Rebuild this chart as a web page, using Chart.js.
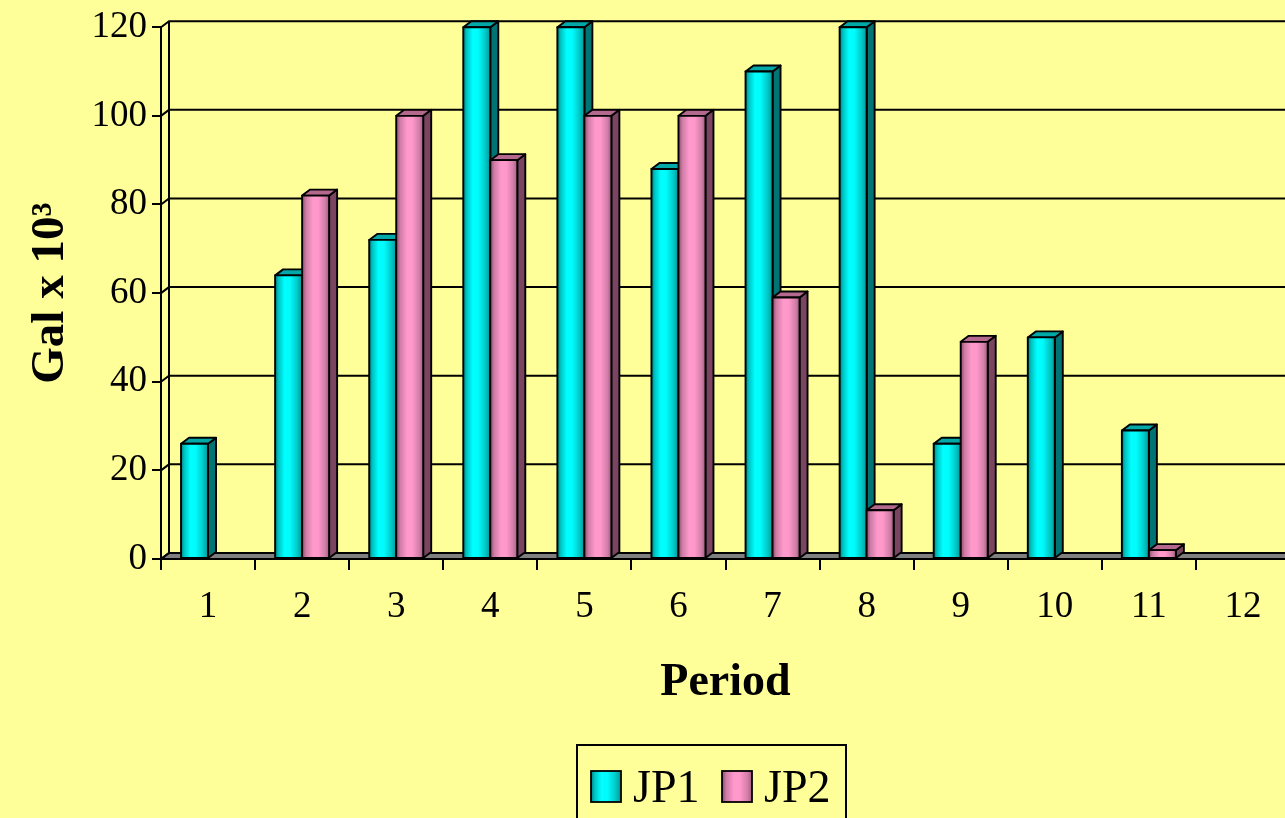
<!DOCTYPE html>
<html>
<head>
<meta charset="utf-8">
<script src="https://cdn.jsdelivr.net/npm/chart.js@4.4.1/dist/chart.umd.min.js"></script>
<style>
  html, body { margin: 0; padding: 0; background: #ffff99; overflow: hidden; }
  #wrap { width: 1285px; height: 818px; overflow: hidden; position: relative; background: #ffff99; }
  canvas { display: block; }
</style>
</head>
<body>
<div id="wrap"><canvas id="chart" width="1291" height="818"></canvas></div>
<script>
// Period labels and pumped volumes (thousands of gallons)
const periods = ['1', '2', '3', '4', '5', '6', '7', '8', '9', '10', '11', '12'];
const jp1 = [26, 64, 72, 120, 120, 88, 110, 120, 26, 50, 29, 0];
const jp2 = [0, 82, 100, 90, 100, 100, 59, 11, 49, 0, 2, 0];
const seriesNames = ['JP1', 'JP2'];

const SERIF = '"Liberation Serif", "Times New Roman", serif';

// Wall / floor depth and bar depth (pseudo-3D offsets)
const WALL_DX = 8, WALL_DY = 6;
const BAR_DX = 8, BAR_DY = 6;

// Shading for each series: front-face cylinder gradient, side and top faces
const shading = [
  {
    stops: [[0, '#007f7f'], [0.12, '#00c2c2'], [0.35, '#00ffff'], [0.55, '#00fbfb'], [0.82, '#00c8c8'], [1, '#009696']],
    side: '#007373',
    top: '#00a8a8'
  },
  {
    stops: [[0, '#8e4d6c'], [0.15, '#cf7ca6'], [0.4, '#ff99cc'], [0.6, '#ff97ca'], [0.85, '#d27fa9'], [1, '#a35d81']],
    side: '#7a4561',
    top: '#b4688e'
  }
];

function hGradient(ctx, x0, x1, stops) {
  const g = ctx.createLinearGradient(x0, 0, x1, 0);
  stops.forEach(([o, c]) => g.addColorStop(o, c));
  return g;
}

function poly(ctx, pts, fill) {
  ctx.beginPath();
  ctx.moveTo(pts[0][0], pts[0][1]);
  for (let i = 1; i < pts.length; i++) ctx.lineTo(pts[i][0], pts[i][1]);
  ctx.closePath();
  ctx.fillStyle = fill;
  ctx.fill();
  ctx.stroke();
}

// Back wall, left wall and floor, plus the extruded bar faces
const box3d = {
  id: 'box3d',
  beforeDatasetsDraw(chart) {
    const { ctx, chartArea, scales: { y } } = chart;
    const L = chartArea.left, R = chartArea.right, B = chartArea.bottom;
    ctx.save();
    ctx.lineWidth = 2;
    ctx.strokeStyle = '#000';
    ctx.lineJoin = 'miter';
    // floor slab
    poly(ctx, [[L, B], [R + 40, B], [R + 40 + WALL_DX, B - WALL_DY], [L + WALL_DX, B - WALL_DY]], '#7f7f7f');
    // back edge of the left wall
    const topY = y.getPixelForValue(y.max);
    ctx.beginPath();
    ctx.moveTo(L + WALL_DX, topY - WALL_DY);
    ctx.lineTo(L + WALL_DX, B - WALL_DY);
    ctx.stroke();
    // gridlines on the left and back walls
    y.ticks.forEach(t => {
      const py = y.getPixelForValue(t.value);
      ctx.beginPath();
      ctx.moveTo(L, py);
      ctx.lineTo(L + WALL_DX, py - WALL_DY);
      ctx.lineTo(R + 60, py - WALL_DY);
      ctx.stroke();
    });
    ctx.restore();
  },
  // Extrude every bar, series by series, so the second series sits in front
  afterDatasetsDraw(chart) {
    const { ctx } = chart;
    ctx.save();
    ctx.lineWidth = 1.9;
    ctx.strokeStyle = '#000';
    ctx.lineJoin = 'round';
    chart.data.datasets.forEach((ds, di) => {
      const meta = chart.getDatasetMeta(di);
      const shade = shading[di];
      meta.data.forEach((bar, i) => {
        if (!ds.data[i]) return;
        const { x, y, width, base } = bar.getProps(['x', 'y', 'width', 'base'], true);
        const l = x - width / 2, r = x + width / 2;
        // side face
        poly(ctx, [[r, y], [r + BAR_DX, y - BAR_DY], [r + BAR_DX, base - BAR_DY], [r, base]], shade.side);
        // top face
        poly(ctx, [[l, y], [l + BAR_DX, y - BAR_DY], [r + BAR_DX, y - BAR_DY], [r, y]], shade.top);
        // front face
        ctx.beginPath();
        ctx.rect(l, y, width, base - y);
        ctx.fillStyle = hGradient(ctx, l, r, shade.stops);
        ctx.fill();
        ctx.stroke();
      });
    });
    ctx.restore();
  }
};

// Boxed legend centred under the axis title
const boxedLegend = {
  id: 'boxedLegend',
  afterDraw(chart) {
    const { ctx } = chart;
    const boxX = 577, boxY = 745, boxW = 269, boxH = 100;
    ctx.save();
    ctx.lineWidth = 2;
    ctx.strokeStyle = '#000';
    ctx.strokeRect(boxX, boxY, boxW, boxH);
    ctx.font = '46px ' + SERIF;
    ctx.textBaseline = 'alphabetic';
    ctx.textAlign = 'left';
    const entries = [{ sx: 591, tx: 633 }, { sx: 722, tx: 764 }];
    chart.data.datasets.forEach((ds, i) => {
      const e = entries[i];
      const sq = 30;
      const sy = 771;
      ctx.fillStyle = hGradient(ctx, e.sx, e.sx + sq, shading[i].stops);
      ctx.fillRect(e.sx, sy, sq, sq + 1);
      ctx.lineWidth = 1.8;
      ctx.strokeRect(e.sx, sy, sq, sq + 1);
      ctx.fillStyle = '#000';
      ctx.fillText(ds.label, e.tx, 802);
    });
    ctx.restore();
  }
};

new Chart(document.getElementById('chart'), {
  type: 'bar',
  data: {
    labels: periods,
    datasets: [
      { label: seriesNames[0], data: jp1, backgroundColor: '#00ffff', borderWidth: 0 },
      { label: seriesNames[1], data: jp2, backgroundColor: '#ff99cc', borderWidth: 0 }
    ]
  },
  options: {
    responsive: false,
    animation: false,
    events: [],
    layout: { padding: { top: 23, left: 0, right: 1, bottom: 98 } },
    datasets: {
      bar: { categoryPercentage: 0.574, barPercentage: 1.0 }
    },
    plugins: {
      legend: { display: false },
      tooltip: { enabled: false }
    },
    scales: {
      x: {
        grid: {
          offset: true,
          drawOnChartArea: false,
          drawTicks: true,
          tickLength: 11,
          color: '#000',
          lineWidth: 2
        },
        border: { display: true, color: '#000', width: 2 },
        ticks: {
          color: '#000',
          padding: 15,
          maxRotation: 0,
          font: { family: SERIF, size: 37, lineHeight: 1.2 }
        },
        title: {
          display: true,
          text: 'Period',
          color: '#000',
          padding: { top: 0, bottom: 9 },
          font: { family: SERIF, size: 46, weight: 'bold', lineHeight: 1.2 }
        },
        afterFit(scale) { scale.height = 161; }
      },
      y: {
        min: 0,
        max: 120,
        grid: {
          drawOnChartArea: false,
          drawTicks: true,
          tickLength: 9,
          color: '#000',
          lineWidth: 2
        },
        border: { display: true, color: '#000', width: 2 },
        ticks: {
          stepSize: 20,
          color: '#000',
          padding: 5,
          font: { family: SERIF, size: 37 }
        },
        title: {
          display: true,
          text: 'Gal x 10³',
          color: '#000',
          padding: { top: 23, bottom: 0 },
          font: { family: SERIF, size: 47, weight: 'bold', lineHeight: 1.2 }
        },
        afterFit(scale) { scale.width = 161; }
      }
    }
  },
  plugins: [box3d, boxedLegend]
});
</script>
</body>
</html>
